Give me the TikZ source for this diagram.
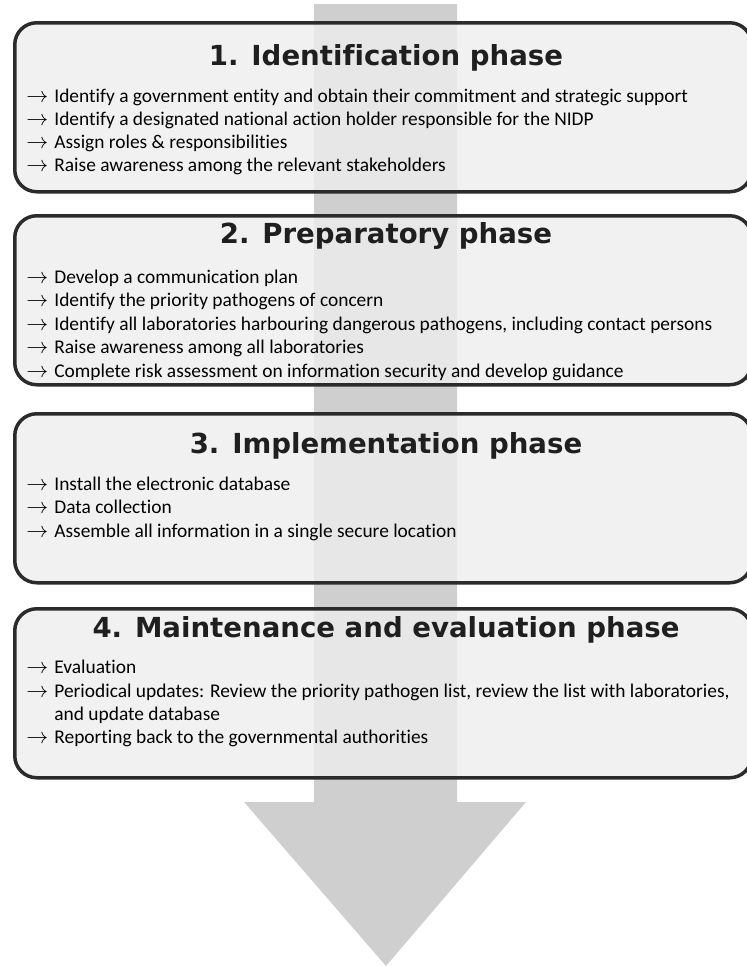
\documentclass[tikz,border=0pt]{standalone}
\usepackage{fontspec}
\setmainfont{Carlito}[Ligatures=NoCommon]
\newfontfamily\headfont{DejaVu Sans}[Ligatures=NoCommon]
\usepackage{xcolor}
\usepackage{tikz}
\usetikzlibrary{positioning}

\definecolor{shaftgray}{HTML}{CFCFCF}
\definecolor{boxgray}{HTML}{EEEEEE}
\definecolor{boxline}{HTML}{2B2B2B}

\newcommand{\itemarrow}{\makebox[14pt][l]{\fontsize{11}{11}\selectfont$\rightarrow$}}
\newcommand{\noarrow}{\hspace*{14pt}}

\tikzset{
  phase/.style={draw=boxline,line width=1.75pt,fill=boxgray,fill opacity=0.8,
    rounded corners=11pt,minimum width=368.5pt,minimum height=84.5pt,
    anchor=north west,inner sep=0pt},
  phasetitle/.style={font=\headfont\bfseries\fontsize{13.8}{14}\selectfont,
    text=black!88,anchor=base,inner sep=0pt},
  task/.style={font=\fontsize{9.7}{11}\selectfont,anchor=base west,inner sep=0pt},
}

\begin{document}
\begin{tikzpicture}[x=0.5pt,y=-0.5pt]
  \clip (0,0) rectangle (747,966);
  % big arrow behind the phases
  \fill[shaftgray] (314,4) -- (457,4) -- (457,802) -- (526,802) -- (386,966)
    -- (244,802) -- (314,802) -- cycle;

  % phase boxes
  \node[phase] (ident) at (13,21) {};
  \node[phase] (prep) at (13,214) {};
  \node[phase] (impl) at (13,412) {};
  \node[phase] (maint) at (13,607) {};

  % titles
  \node[phasetitle] (identtitle) at (386,65) {1. Identification phase};
  \node[phasetitle] (preptitle) at (386,243) {2. Preparatory phase};
  \node[phasetitle] (impltitle) at (386,453) {3. Implementation phase};
  \node[phasetitle] (mainttitle) at (386,637) {4. Maintenance and evaluation phase};

  % tasks
  \foreach \txt [count=\i from 0] in {
      Identify a government entity and obtain their commitment and strategic support,
      Identify a designated national action holder responsible for the NIDP,
      Assign roles \& responsibilities,
      Raise awareness among the relevant stakeholders}
    \node[task] (ident-\i) at (26,102+23*\i) {\itemarrow\txt};
  \foreach \txt [count=\i from 0] in {
      Develop a communication plan,
      Identify the priority pathogens of concern,
      {Identify all laboratories harbouring dangerous pathogens, including contact persons},
      Raise awareness among all laboratories,
      Complete risk assessment on information security and develop guidance}
    \node[task] (prep-\i) at (26,283+23.5*\i) {\itemarrow\txt};
  \foreach \txt [count=\i from 0] in {
      Install the electronic database,
      Data collection,
      Assemble all information in a single secure location}
    \node[task] (impl-\i) at (26,490+23.5*\i) {\itemarrow\txt};
  \node[task] (maint-0) at (26,673) {\itemarrow Evaluation};
  \node[task] (maint-1) at (26,697) {\itemarrow Periodical updates: Review the priority pathogen list, review the list with laboratories,};
  \node[task] (maint-2) at (26,720) {\noarrow and update database};
  \node[task] (maint-3) at (26,743) {\itemarrow Reporting back to the governmental authorities};
\end{tikzpicture}
\end{document}
